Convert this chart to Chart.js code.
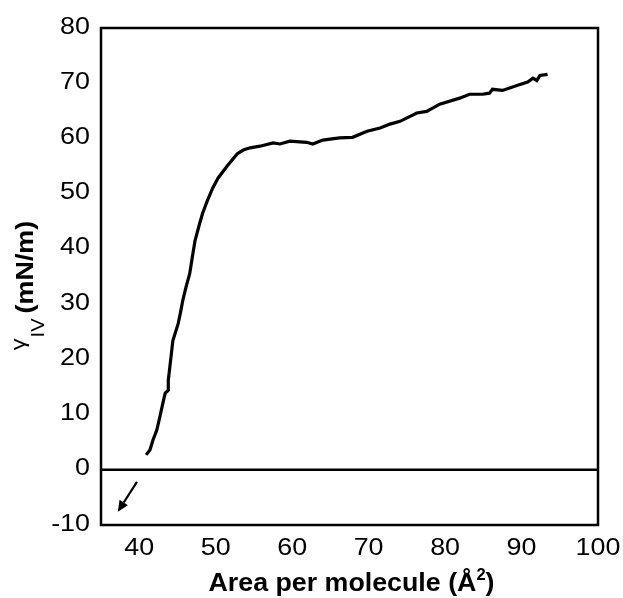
<!DOCTYPE html>
<html>
<head>
<meta charset="utf-8">
<script src="https://cdn.jsdelivr.net/npm/chart.js@4/dist/chart.umd.min.js"></script>
<style>
html,body{margin:0;padding:0;background:#fff;}
#wrap{width:623px;height:598px;}
</style>
</head>
<body>
<div id="wrap"><canvas id="c" width="623" height="598"></canvas></div>
<script>
// Data
const areaValues = [40.9, 41.4, 41.8, 42.3, 42.7, 43.1, 43.4, 43.8, 43.8, 44.0, 44.4, 44.7, 45.1, 45.4, 45.7, 46.1, 46.6, 47.0, 47.3, 47.9, 48.3, 48.9, 49.6, 50.3, 51.5, 52.8, 53.6, 54.5, 55.8, 57.5, 58.4, 59.7, 61.9, 62.7, 64.0, 66.2, 67.9, 69.8, 71.5, 72.8, 74.1, 76.3, 77.6, 79.3, 81.9, 83.2, 84.9, 85.8, 86.2, 87.5, 89.4, 90.8, 91.5, 92.0, 92.4, 93.4];
const tensionValues = [2.7, 3.6, 5.4, 7.2, 9.6, 12.1, 13.9, 14.4, 16.2, 18.6, 23.4, 24.7, 26.5, 28.5, 30.7, 33.0, 35.5, 39.0, 41.5, 44.6, 46.5, 48.7, 51.0, 52.8, 55.0, 57.2, 57.9, 58.3, 58.6, 59.2, 59.0, 59.5, 59.3, 59.0, 59.7, 60.1, 60.2, 61.3, 61.9, 62.6, 63.1, 64.6, 64.9, 66.2, 67.3, 68.0, 68.0, 68.2, 68.9, 68.7, 69.6, 70.2, 70.9, 70.5, 71.4, 71.6];
const xTicks = [40, 50, 60, 70, 80, 90, 100];
const yTicks = [-10, 0, 10, 20, 30, 40, 50, 60, 70, 80];
const arrowFrom = [39.7, -2.2];
const arrowTo = [37.2, -7.6];
const xTitleMain = 'Area per molecule (Å';
const xTitleSup = '2';
const xTitleEnd = ')';
const yTitleSymbol = 'γ';
const yTitleSub = 'IV';
const yTitleUnit = '(mN/m)';

const points = areaValues.map((x, i) => ({x: x, y: tensionValues[i]}));
const FONT = "'Liberation Sans', Arial, sans-serif";
let SX = 1.12; // horizontal stretch of text as in the reference

function stretchedText(ctx, text, x, y, align) {
  const w = ctx.measureText(text).width * SX;
  let x0 = x;
  if (align === 'right') x0 = x - w;
  else if (align === 'center') x0 = x - w / 2;
  ctx.save();
  ctx.translate(x0, y);
  ctx.scale(SX, 1);
  ctx.textAlign = 'left';
  ctx.fillText(text, 0, 0);
  ctx.restore();
  return w;
}

const framePlugin = {
  id: 'frame',
  afterDatasetsDraw(chart) {
    const {ctx, chartArea: a, scales} = chart;
    ctx.save();
    const y0 = scales.y.getPixelForValue(0);
    ctx.strokeStyle = '#000';
    ctx.lineWidth = 2.5;
    ctx.beginPath();
    ctx.moveTo(a.left, y0);
    ctx.lineTo(a.right, y0);
    ctx.stroke();
    ctx.strokeRect(a.left, a.top, a.right - a.left, a.bottom - a.top);
    // arrow
    const x1 = scales.x.getPixelForValue(arrowFrom[0]);
    const y1 = scales.y.getPixelForValue(arrowFrom[1]);
    const x2 = scales.x.getPixelForValue(arrowTo[0]);
    const y2 = scales.y.getPixelForValue(arrowTo[1]);
    const ang = Math.atan2(y2 - y1, x2 - x1);
    const hl = 11, hw = 5;
    const bx = x2 - hl * Math.cos(ang), by = y2 - hl * Math.sin(ang);
    ctx.lineWidth = 2.2;
    ctx.beginPath();
    ctx.moveTo(x1, y1);
    ctx.lineTo(bx, by);
    ctx.stroke();
    ctx.fillStyle = '#000';
    ctx.beginPath();
    ctx.moveTo(x2, y2);
    ctx.lineTo(bx + hw * Math.sin(ang), by - hw * Math.cos(ang));
    ctx.lineTo(bx - hw * Math.sin(ang), by + hw * Math.cos(ang));
    ctx.closePath();
    ctx.fill();
    ctx.restore();
  },
  afterDraw(chart) {
    const {ctx, chartArea: a, scales} = chart;
    ctx.save();
    ctx.fillStyle = '#000';
    ctx.textBaseline = 'alphabetic';
    SX = 1.12;
    // tick labels
    ctx.font = '24px ' + FONT;
    yTicks.forEach(v => {
      const py = scales.y.getPixelForValue(v);
      stretchedText(ctx, String(v), a.left - 11, py + 5.5, 'right');
    });
    xTicks.forEach(v => {
      const px = scales.x.getPixelForValue(v);
      stretchedText(ctx, String(v), px, a.bottom + 30, 'center');
    });
    // x title
    SX = 1.03;
    const fMain = 'bold 26px ' + FONT, fSup = 'bold 16px ' + FONT;
    ctx.font = fMain;
    const wm = ctx.measureText(xTitleMain).width * SX;
    const we = ctx.measureText(xTitleEnd).width * SX;
    ctx.font = fSup;
    const ws = ctx.measureText(xTitleSup).width * SX;
    let x = (a.left + a.right) / 2 + 2 - (wm + ws + we) / 2;
    const by = a.bottom + 66;
    ctx.font = fMain; x += stretchedText(ctx, xTitleMain, x, by, 'left');
    ctx.font = fSup; x += stretchedText(ctx, xTitleSup, x, by - 11, 'left');
    ctx.font = fMain; stretchedText(ctx, xTitleEnd, x, by, 'left');
    ctx.restore();

    // y title, rotated
    SX = 1.12;
    ctx.save();
    ctx.fillStyle = '#000';
    ctx.textBaseline = 'alphabetic';
    const cy = (a.top + a.bottom) / 2 + 9;
    ctx.translate(0, cy);
    ctx.rotate(-Math.PI / 2);
    const fSym = '21px ' + FONT, fSub = '18px ' + FONT, fUnit = 'bold 24px ' + FONT;
    ctx.font = fSym; const w1 = ctx.measureText(yTitleSymbol).width * SX;
    ctx.font = fSub; const w2 = ctx.measureText(yTitleSub).width * SX;
    ctx.font = fUnit; const w3 = ctx.measureText(yTitleUnit).width * SX;
    let u = -(w1 + 1 + w2 + 5 + w3) / 2;
    ctx.font = fSym; u += stretchedText(ctx, yTitleSymbol, u, 25, 'left');
    u += 1;
    ctx.font = fSub; u += stretchedText(ctx, yTitleSub, u, 44, 'left');
    u += 5;
    ctx.font = fUnit; stretchedText(ctx, yTitleUnit, u, 33, 'left');
    ctx.restore();
  }
};

new Chart(document.getElementById('c'), {
  type: 'scatter',
  data: {
    datasets: [{
      data: points,
      showLine: true,
      borderColor: '#000',
      borderWidth: 3.2,
      pointRadius: 0,
      tension: 0,
      fill: false
    }]
  },
  options: {
    responsive: false,
    animation: false,
    devicePixelRatio: 1,
    layout: {padding: {left: 0, top: 28, right: 25, bottom: 0}},
    plugins: {legend: {display: false}, tooltip: {enabled: false}},
    scales: {
      x: {
        type: 'linear', min: 35, max: 100,
        afterBuildTicks(s) { s.ticks = xTicks.map(v => ({value: v})); },
        afterFit(s) { s.height = 73; },
        grid: {display: false, drawTicks: false},
        border: {display: false},
        ticks: {display: false}
      },
      y: {
        type: 'linear', min: -10, max: 80,
        afterBuildTicks(s) { s.ticks = yTicks.map(v => ({value: v})); },
        afterFit(s) { s.width = 101; },
        grid: {display: false, drawTicks: false},
        border: {display: false},
        ticks: {display: false}
      }
    }
  },
  plugins: [framePlugin]
});
</script>
</body>
</html>
